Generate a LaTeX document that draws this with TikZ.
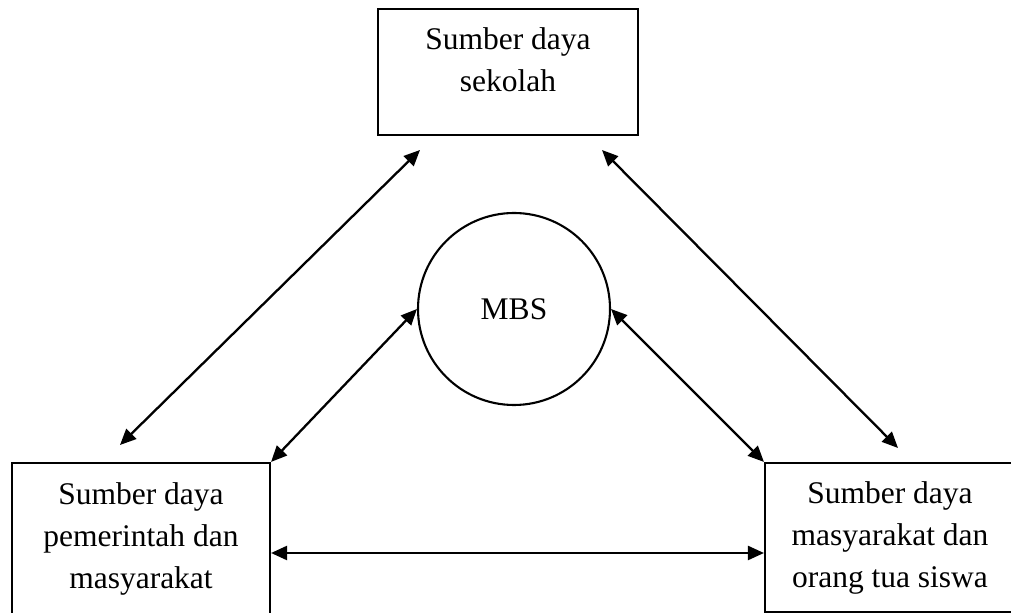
\documentclass[tikz,border=0pt]{standalone}
\usepackage{fontspec}
\setmainfont{Liberation Serif}
\usetikzlibrary{arrows.meta,positioning,calc}

\begin{document}
\begin{tikzpicture}[x=0.5pt,y=-0.5pt,
    kotak/.style={draw=black,line width=1.05pt,align=center,inner sep=0pt,
      font=\fontsize{15.75}{21}\selectfont},
    panah/.style={line width=1.15pt,
      {Triangle[length=8pt,width=7pt]}-{Triangle[length=8pt,width=7pt]}}]
  % frame of the page
  \useasboundingbox (0,0) rectangle (1011,613);
  \clip (0,0) rectangle (1011,613);
  % the three boxes
  \node[kotak,minimum width=130pt,minimum height=63pt,text depth=12pt] (sekolah) at (508,72) {Sumber daya\\sekolah};
  \node[kotak,minimum width=129pt,minimum height=76pt] (pemerintah) at (141,539) {Sumber daya\\pemerintah dan\\masyarakat};
  \node[kotak,minimum width=125pt,minimum height=74.5pt] (ortu) at (890,537.5) {Sumber daya\\masyarakat dan\\orang tua siswa};
  % circle
  \node[kotak,circle,minimum size=96pt] (mbs) at (514,309) {MBS};
  % free ends
  \coordinate (a1) at (420,150);
  \coordinate (a2) at (120,445);
  \coordinate (b1) at (602,150);
  \coordinate (b2) at (898,448);
  % arrows
  \draw[panah] (a1) -- (a2);
  \draw[panah] (b1) -- (b2);
  \draw[panah] (mbs.west) -- (pemerintah.north east);
  \draw[panah] (mbs.east) -- (ortu.north west);
  \draw[panah] (pemerintah.east |- 0,553) -- (ortu.west |- 0,553);
\end{tikzpicture}
\end{document}
